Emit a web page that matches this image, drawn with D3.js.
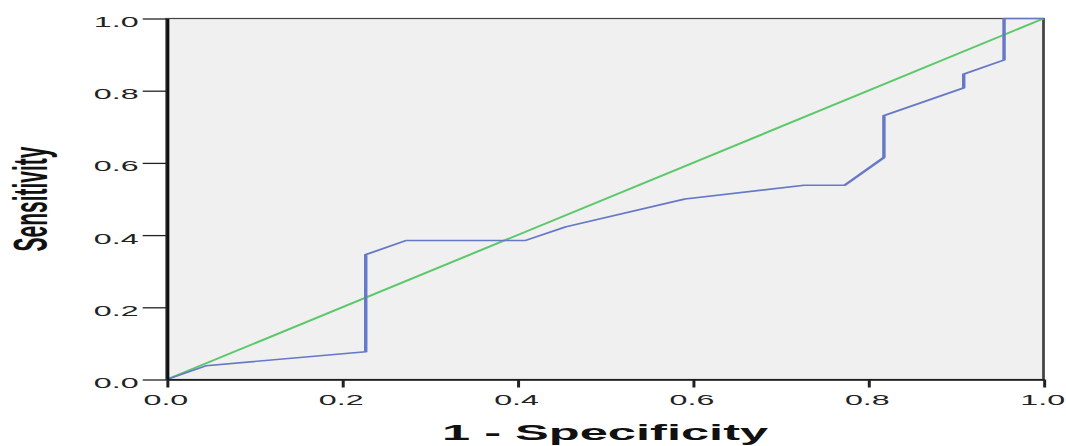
<!DOCTYPE html>
<html>
<head>
<meta charset="utf-8">
<script src="https://cdn.jsdelivr.net/npm/d3@7"></script>
<style>
  html, body { margin: 0; padding: 0; background: #ffffff; }
  svg { display: block; }
</style>
</head>
<body>
<div id="chart"></div>
<script>
// ---- data ----
const rocX = [0, 0.045, 0.227, 0.227, 0.273, 0.409, 0.455, 0.591, 0.727, 0.773, 0.818, 0.818, 0.909, 0.909, 0.955, 0.955, 1.0];
const rocY = [0, 0.038, 0.077, 0.346, 0.385, 0.385, 0.423, 0.500, 0.538, 0.538, 0.615, 0.731, 0.808, 0.846, 0.885, 1.0, 1.0];
const refX = [0, 1];
const refY = [0, 1];
const xTicks = [0, 0.2, 0.4, 0.6, 0.8, 1.0];
const yTicks = [0, 0.2, 0.4, 0.6, 0.8, 1.0];
const xTitle = "1 - Specificity";
const yTitle = "Sensitivity";

// ---- layout ----
const W = 1066, H = 446;
const S = 2.3;                 // horizontal stretch of the original picture
const VW = W / S;
const mLeft = 166.7 / S, mRight = 1043.5 / S, mTop = 18.5, mBottom = 379.5;

const svg = d3.select("#chart").append("svg")
  .attr("width", W).attr("height", H)
  .attr("viewBox", `0 0 ${VW} ${H}`)
  .attr("preserveAspectRatio", "none");

const x = d3.scaleLinear().domain([0, 1]).range([mLeft, mRight]);
const y = d3.scaleLinear().domain([0, 1]).range([mBottom, mTop]);

// plot background + frame
svg.append("rect")
  .attr("x", x(0)).attr("y", y(1))
  .attr("width", x(1) - x(0)).attr("height", y(0) - y(1))
  .attr("fill", "#f0f0f0")
  .attr("stroke", "#444").attr("stroke-width", 1.2);

// reference diagonal
const line = d3.line().x(d => x(d[0])).y(d => y(d[1]));
svg.append("path")
  .datum(refX.map((v, i) => [v, refY[i]]))
  .attr("d", line)
  .attr("fill", "none")
  .attr("stroke", "#5cc86a")
  .attr("stroke-width", 1.6);

// ROC curve
svg.append("path")
  .datum(rocX.map((v, i) => [v, rocY[i]]))
  .attr("d", line)
  .attr("fill", "none")
  .attr("stroke", "#6579c8")
  .attr("stroke-width", 1.5)
  .attr("stroke-linejoin", "round");

// axes
const tickFmt = d3.format(".1f");
const yAxis = svg.append("g")
  .attr("transform", `translate(${x(0)},0)`)
  .call(d3.axisLeft(y).tickValues(yTicks).tickFormat(tickFmt)
        .tickSize(24 / S).tickSizeOuter(0).tickPadding(1.8));
const xAxis = svg.append("g")
  .attr("transform", `translate(0,${y(0)})`)
  .call(d3.axisBottom(x).tickValues(xTicks).tickFormat(tickFmt)
        .tickSize(8).tickSizeOuter(0));

[yAxis, xAxis].forEach(g => {
  g.select(".domain").attr("stroke", "#111").attr("stroke-width", 1.3);
  g.selectAll(".tick line").attr("stroke", "#222").attr("stroke-width", 1.3);
  g.selectAll("text")
    .attr("fill", "#222")
    .attr("font-family", "'Liberation Sans', Arial, sans-serif")
    .attr("font-size", 14);
});
yAxis.selectAll("text").attr("dy", "0.32em").attr("transform", "translate(0,3.5)");
xAxis.selectAll("text").attr("y", 25.5).attr("dy", 0).attr("x", -2 / S);

// titles
svg.append("text")
  .attr("x", (x(0) + x(1)) / 2)
  .attr("y", 440)
  .attr("text-anchor", "middle")
  .attr("font-family", "'Liberation Sans', Arial, sans-serif")
  .attr("font-weight", "bold")
  .attr("font-size", 22)
  .attr("fill", "#111")
  .text(xTitle);

svg.append("text")
  .attr("transform", `translate(${47 / S},${(y(0) + y(1)) / 2}) rotate(-90)`)
  .attr("text-anchor", "middle")
  .attr("font-family", "'Liberation Sans', Arial, sans-serif")
  .attr("font-weight", "bold")
  .attr("font-size", 21)
  .attr("fill", "#111")
  .text(yTitle);
</script>
</body>
</html>
